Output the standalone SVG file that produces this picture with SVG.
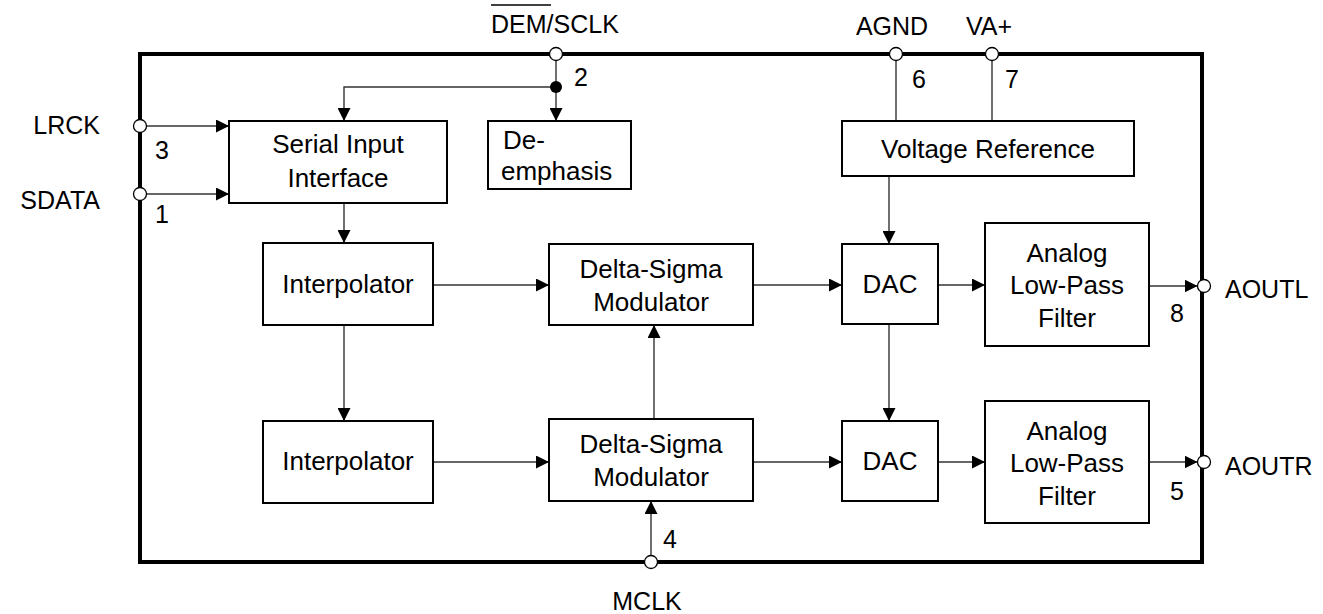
<svg xmlns="http://www.w3.org/2000/svg" width="1323" height="614" viewBox="0 0 1323 614">
<defs>
<marker id="ah" markerUnits="userSpaceOnUse" markerWidth="13" markerHeight="13" refX="13" refY="6.5" orient="auto" viewBox="0 0 13 13">
<path d="M0,0 L13,6.5 L0,13 z" fill="#000"/>
</marker>
<style>
text{font-family:"Liberation Sans",Arial,sans-serif;font-size:25px;fill:#000}
.c{text-anchor:middle}
.b{font-size:26px}
.box{fill:#fff;stroke:#000;stroke-width:2}
.w{fill:none;stroke:#333;stroke-width:1.4}
.a{marker-end:url(#ah)}
.pin{fill:#fff;stroke:#000;stroke-width:1.3}
</style>
</defs>
<rect width="1323" height="614" fill="#fff"/>
<g id="frame">
<rect x="140" y="54" width="1062" height="508" fill="none" stroke="#000" stroke-width="4"/>
</g>
<g id="connectors">
<path class="w a" d="M556,60 V121"/>
<path class="w a" d="M556,87 H344 V121"/>
<path class="w a" d="M146,126 H229"/>
<path class="w a" d="M146,194 H229"/>
<path class="w a" d="M344,203 V243"/>
<path class="w a" d="M433,285 H549"/>
<path class="w a" d="M344,325 V421"/>
<path class="w a" d="M433,462 H549"/>
<path class="w a" d="M654,419 V325"/>
<path class="w a" d="M651,556 V501"/>
<path class="w" d="M896,60 V121"/>
<path class="w" d="M992,60 V121"/>
<path class="w a" d="M889,176 V244"/>
<path class="w a" d="M753,285 H842"/>
<path class="w a" d="M753,462 H842"/>
<path class="w a" d="M889,324 V421"/>
<path class="w a" d="M938,285 H985"/>
<path class="w a" d="M938,462 H985"/>
<path class="w a" d="M1149,286 H1197.5"/>
<path class="w a" d="M1149,462 H1197.5"/>
<circle cx="556" cy="87" r="6" fill="#000"/>
</g>
<g id="pins">
<circle class="pin" cx="556" cy="54" r="6.5"/>
<circle class="pin" cx="896" cy="54" r="6.5"/>
<circle class="pin" cx="992" cy="54" r="6.5"/>
<circle class="pin" cx="140" cy="126" r="6.5"/>
<circle class="pin" cx="140" cy="194" r="6.5"/>
<circle class="pin" cx="651" cy="562" r="6.5"/>
<circle class="pin" cx="1204" cy="286" r="6.5"/>
<circle class="pin" cx="1204" cy="462" r="6.5"/>
<text x="574" y="86">2</text>
<text x="155" y="159">3</text>
<text x="155" y="223">1</text>
<text x="912" y="88">6</text>
<text x="1005" y="88">7</text>
<text x="663" y="548">4</text>
<text x="1170" y="322">8</text>
<text x="1170" y="500">5</text>
<text x="491" y="33">DEM/SCLK</text>
<line x1="491" y1="5" x2="551" y2="5" stroke="#000" stroke-width="1.5"/>
<text class="c" x="892" y="35">AGND</text>
<text class="c" x="989" y="35">VA+</text>
<text x="100" y="134" text-anchor="end">LRCK</text>
<text x="100" y="209" text-anchor="end">SDATA</text>
<text x="1225" y="298">AOUTL</text>
<text x="1225" y="475">AOUTR</text>
<text class="c" x="647" y="610">MCLK</text>
</g>
<g id="serial">
<rect class="box" x="229" y="121" width="218" height="82"/>
<text class="c b" x="338" y="153">Serial Input</text>
<text class="c b" x="338" y="187">Interface</text>
</g>
<g id="deemphasis">
<rect class="box" x="488" y="121" width="143" height="68"/>
<text class="b" x="503" y="149">De-</text>
<text class="b" x="501" y="180">emphasis</text>
</g>
<g id="vref">
<rect class="box" x="842" y="121" width="292" height="55"/>
<text class="c b" x="988" y="158">Voltage Reference</text>
</g>
<g id="interp1">
<rect class="box" x="263" y="243" width="170" height="82"/>
<text class="c b" x="348" y="293">Interpolator</text>
</g>
<g id="interp2">
<rect class="box" x="263" y="421" width="170" height="82"/>
<text class="c b" x="348" y="470">Interpolator</text>
</g>
<g id="dsm1">
<rect class="box" x="549" y="244" width="204" height="81"/>
<text class="c b" x="651" y="278">Delta-Sigma</text>
<text class="c b" x="651" y="311">Modulator</text>
</g>
<g id="dsm2">
<rect class="box" x="549" y="419" width="204" height="82"/>
<text class="c b" x="651" y="453">Delta-Sigma</text>
<text class="c b" x="651" y="486">Modulator</text>
</g>
<g id="dac1">
<rect class="box" x="842" y="244" width="96" height="80"/>
<text class="c b" x="890" y="293">DAC</text>
</g>
<g id="dac2">
<rect class="box" x="842" y="421" width="96" height="80"/>
<text class="c b" x="890" y="470">DAC</text>
</g>
<g id="alpf1">
<rect class="box" x="985" y="223" width="164" height="123"/>
<text class="c b" x="1067" y="262">Analog</text>
<text class="c b" x="1067" y="294">Low-Pass</text>
<text class="c b" x="1067" y="327">Filter</text>
</g>
<g id="alpf2">
<rect class="box" x="985" y="401" width="164" height="122"/>
<text class="c b" x="1067" y="440">Analog</text>
<text class="c b" x="1067" y="472">Low-Pass</text>
<text class="c b" x="1067" y="505">Filter</text>
</g>
</svg>
